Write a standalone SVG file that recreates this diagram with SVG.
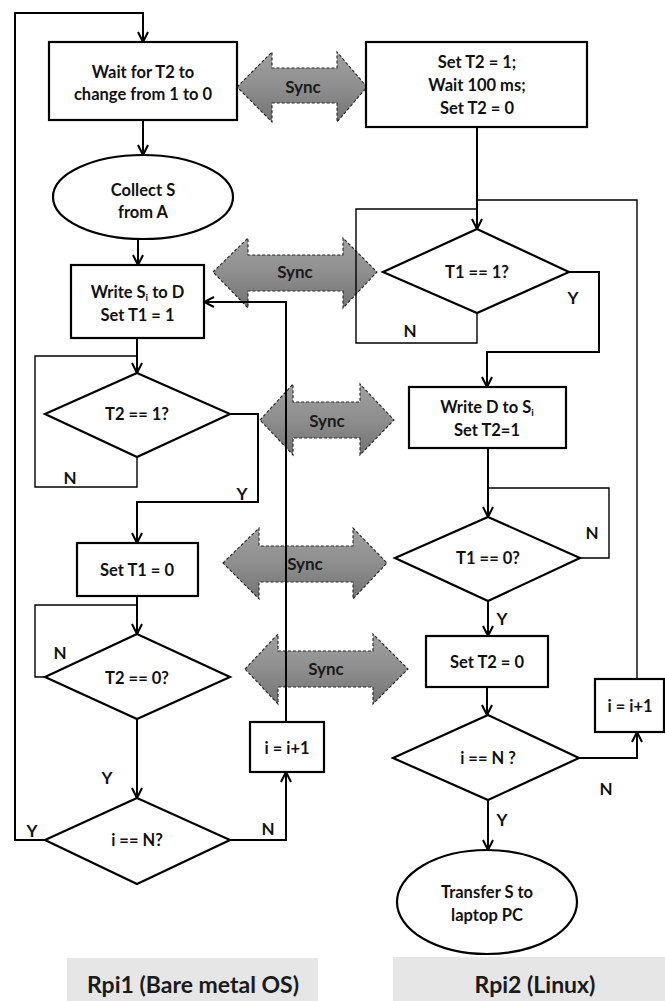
<svg xmlns="http://www.w3.org/2000/svg" width="665" height="1001" viewBox="0 0 665 1001">
<style>
.n{fill:#fff;stroke:#000;stroke-width:2.2}
.t{font-family:Lato,"Liberation Sans",sans-serif;font-weight:bold;font-size:16.5px;fill:#111;text-anchor:middle}
.lb{font-family:Lato,"Liberation Sans",sans-serif;font-weight:bold;font-size:17px;fill:#111;text-anchor:middle}
.c{fill:none;stroke:#000;stroke-width:2}
.l{fill:none;stroke:#000;stroke-width:1.4}
.s{fill:url(#g);stroke:#222;stroke-width:1.1;stroke-dasharray:3 2}
.st{font-family:Lato,"Liberation Sans",sans-serif;font-weight:bold;font-size:17px;fill:#1a1a1a;text-anchor:middle}
.cap{font-family:Lato,"Liberation Sans",sans-serif;font-weight:bold;font-size:23px;fill:#1a1a1a;text-anchor:middle}
</style>
<defs>
<linearGradient id="g" x1="0" y1="0" x2="0" y2="1">
<stop offset="0" stop-color="#a0a0a0"/>
<stop offset="0.5" stop-color="#8e8e8e"/>
<stop offset="1" stop-color="#737373"/>
</linearGradient>
<marker id="a" viewBox="0 0 12 12" refX="11" refY="6" markerWidth="12" markerHeight="12" markerUnits="userSpaceOnUse" orient="auto">
<path d="M1,1 L11,6 L1,11" fill="none" stroke="#000" stroke-width="2"/>
</marker>
</defs>
<rect width="665" height="1001" fill="#fff"/>

<g id="sync-arrows">
<path class="s" d="M237,87 L272,52 L272,68 L337,68 L337,52 L367,87 L337,122 L337,103 L272,103 L272,122 Z"/>
<text class="st" x="303" y="93">Sync</text>
<path class="s" d="M213,272 L248,238 L248,255 L343,255 L343,238 L377,272 L343,308 L343,291 L248,291 L248,308 Z"/>
<text class="st" x="295" y="278">Sync</text>
<path class="s" d="M260,420 L293,384 L293,402 L360,402 L360,384 L394,420 L360,455 L360,438 L293,438 L293,455 Z"/>
<text class="st" x="327" y="427">Sync</text>
<path class="s" d="M223,563 L259,528 L259,546 L353,546 L353,528 L387,563 L353,599 L353,582 L259,582 L259,599 Z"/>
<text class="st" x="305" y="570">Sync</text>
<path class="s" d="M245,669 L278,634 L278,651 L373,651 L373,634 L408,669 L373,704 L373,687 L278,687 L278,704 Z"/>
<text class="st" x="326" y="675">Sync</text>
</g>

<g id="connectors">
<path class="c" d="M45,840 H15 V13 H143 V42" marker-end="url(#a)"/>
<path class="c" d="M143,120 V155" marker-end="url(#a)"/>
<path class="c" d="M138,240 V265" marker-end="url(#a)"/>
<path class="c" d="M137,338 V373" marker-end="url(#a)"/>
<path class="l" d="M137,457 V487 H35 V356 H137"/>
<path class="c" d="M230,414 H258 V502 H137 V543" marker-end="url(#a)"/>
<path class="c" d="M137,596 V634" marker-end="url(#a)"/>
<path class="l" d="M45,677 H35 V605 H137"/>
<path class="c" d="M137,719 V798" marker-end="url(#a)"/>
<path class="c" d="M230,840 H286 V772" marker-end="url(#a)"/>
<path class="c" d="M286,722 V302 H204" marker-end="url(#a)"/>
<path class="c" d="M477,127 V229" marker-end="url(#a)"/>
<path class="l" d="M477,313 V343 H356 V209 H477"/>
<path class="c" d="M569,272 H599 V352 H487 V387" marker-end="url(#a)"/>
<path class="c" d="M488,448 V517" marker-end="url(#a)"/>
<path class="l" d="M580,558 H609 V488 H488"/>
<path class="c" d="M488,601 V636" marker-end="url(#a)"/>
<path class="c" d="M487,687 V715" marker-end="url(#a)"/>
<path class="c" d="M579,758 H637 V732" marker-end="url(#a)"/>
<path class="l" d="M637,679 V200 H477"/>
<path class="c" d="M488,800 V850" marker-end="url(#a)"/>
</g>

<g id="labels">
<text class="lb" x="410" y="337">N</text>
<text class="lb" x="573" y="304">Y</text>
<text class="lb" x="70" y="484">N</text>
<text class="lb" x="242" y="500">Y</text>
<text class="lb" x="60" y="659">N</text>
<text class="lb" x="107" y="784">Y</text>
<text class="lb" x="32" y="837">Y</text>
<text class="lb" x="268" y="835">N</text>
<text class="lb" x="592" y="539">N</text>
<text class="lb" x="502" y="625">Y</text>
<text class="lb" x="606" y="795">N</text>
<text class="lb" x="502" y="826">Y</text>
</g>

<g id="wait-t2">
<rect class="n" x="49" y="42" width="188" height="78"/>
<text class="t" x="143" y="78">Wait for T2 to</text>
<text class="t" x="143" y="100">change from 1 to 0</text>
</g>
<g id="collect-s">
<ellipse class="n" cx="143" cy="197" rx="90" ry="42"/>
<text class="t" x="143" y="196">Collect S</text>
<text class="t" x="143" y="218">from A</text>
</g>
<g id="write-si">
<rect class="n" x="71" y="265" width="133" height="73"/>
<text class="t" x="137.5" y="298">Write S<tspan font-size="10" dy="3">i</tspan><tspan dy="-3"> to D</tspan></text>
<text class="t" x="137.5" y="321">Set T1 = 1</text>
</g>
<g id="t2-eq-1">
<polygon class="n" points="137,373 230,414 137,457 45,414"/>
<text class="t" x="137" y="420">T2 == 1?</text>
</g>
<g id="set-t1-0">
<rect class="n" x="77" y="543" width="121" height="53"/>
<text class="t" x="137" y="576">Set T1 = 0</text>
</g>
<g id="t2-eq-0">
<polygon class="n" points="137,634 230,677 137,719 45,677"/>
<text class="t" x="137" y="684">T2 == 0?</text>
</g>
<g id="i-eq-n-left">
<polygon class="n" points="137,798 230,840 137,884 45,840"/>
<text class="t" x="137" y="846">i == N?</text>
</g>
<g id="inc-left">
<rect class="n" x="250" y="722" width="74" height="50"/>
<text class="t" x="287" y="754">i = i+1</text>
</g>
<g id="set-t2">
<rect class="n" x="366" y="42" width="221" height="85"/>
<text class="t" x="477" y="68">Set T2 = 1;</text>
<text class="t" x="477" y="91">Wait 100 ms;</text>
<text class="t" x="477" y="114">Set T2 = 0</text>
</g>
<g id="t1-eq-1">
<polygon class="n" points="477,229 569,272 477,313 383,272"/>
<text class="t" x="477" y="278">T1 == 1?</text>
</g>
<g id="write-d">
<rect class="n" x="409" y="387" width="157" height="61"/>
<text class="t" x="487" y="413">Write D to S<tspan font-size="10" dy="3">i</tspan></text>
<text class="t" x="487" y="436">Set T2=1</text>
</g>
<g id="t1-eq-0">
<polygon class="n" points="488,517 580,558 488,601 395,558"/>
<text class="t" x="488" y="564">T1 == 0?</text>
</g>
<g id="set-t2-0">
<rect class="n" x="426" y="636" width="122" height="51"/>
<text class="t" x="487" y="668">Set T2 = 0</text>
</g>
<g id="i-eq-n-right">
<polygon class="n" points="488,715 579,758 488,800 393,758"/>
<text class="t" x="488" y="764">i == N ?</text>
</g>
<g id="inc-right">
<rect class="n" x="595" y="679" width="69" height="53"/>
<text class="t" x="630" y="712">i = i+1</text>
</g>
<g id="transfer">
<ellipse class="n" cx="487" cy="902" rx="90" ry="52"/>
<text class="t" x="487" y="898">Transfer S to</text>
<text class="t" x="487" y="921">laptop PC</text>
</g>
<g id="cap-rpi1">
<rect x="67" y="958" width="251" height="43" fill="#e6e6e6"/>
<text class="cap" x="193" y="993">Rpi1 (Bare metal OS)</text>
</g>
<g id="cap-rpi2">
<rect x="393" y="957" width="272" height="44" fill="#e6e6e6"/>
<text class="cap" x="535" y="993">Rpi2 (Linux)</text>
</g>
</svg>
